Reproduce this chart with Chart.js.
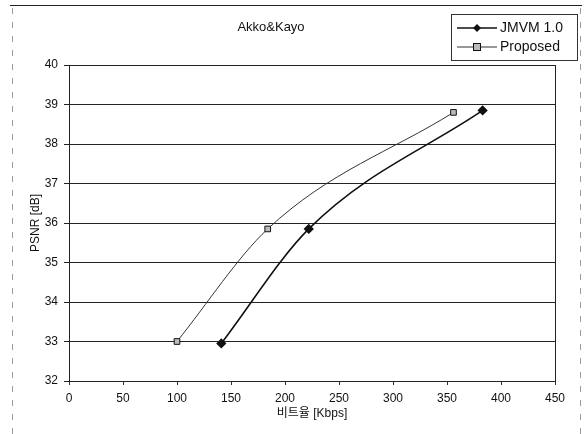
<!DOCTYPE html>
<html>
<head>
<meta charset="utf-8">
<script src="https://cdn.jsdelivr.net/npm/chart.js@4.4.1/dist/chart.umd.min.js"></script>
<style>
  html, body { margin: 0; padding: 0; background: #fff; }
  canvas { display: block; }
</style>
</head>
<body>
<canvas id="psnrChart" width="585" height="434"></canvas>
<script>
// 1. data
const chartTitle = 'Akko&Kayo';
const seriesNames = ['JMVM 1.0', 'Proposed'];
const jmvmRate = [141, 222, 383];
const jmvmPsnr = [32.95, 35.85, 38.85];
const propRate = [100, 184, 356];
const propPsnr = [33.0, 35.85, 38.8];
const xTicks = [0, 50, 100, 150, 200, 250, 300, 350, 400, 450];
const yTicks = [32, 33, 34, 35, 36, 37, 38, 39, 40];

const FONT = "'Liberation Sans', Arial, 'Noto Sans CJK KR', sans-serif";

// 2. helper: zip x/y arrays into points
function toPoints(xs, ys) {
    return xs.map((x, i) => ({ x: x, y: ys[i] }));
}

// 3. plugin: frame, plot border, title, legend box
const decorPlugin = {
    id: 'decor',
    beforeDatasetsDraw(chart) {
        const { ctx, chartArea: a } = chart;
        ctx.save();
        ctx.strokeStyle = '#222';
        ctx.lineWidth = 1;
        ctx.strokeRect(a.left + 0.5, a.top + 0.5, a.right - a.left, a.bottom - a.top);
        ctx.restore();
    },
    afterDraw(chart) {
        const ctx = chart.ctx;
        ctx.save();

        // 3.1 outer frame
        ctx.strokeStyle = '#222';
        ctx.lineWidth = 1;
        ctx.beginPath();
        ctx.moveTo(10, 5.5);
        ctx.lineTo(582, 5.5);
        ctx.stroke();
        ctx.strokeStyle = '#999';
        ctx.setLineDash([6, 8]);
        ctx.beginPath();
        ctx.moveTo(12.5, 8);
        ctx.lineTo(12.5, 434);
        ctx.moveTo(580.5, 8);
        ctx.lineTo(580.5, 434);
        ctx.stroke();
        ctx.setLineDash([]);

        // 3.2 title
        ctx.fillStyle = '#111';
        ctx.font = '13px ' + FONT;
        ctx.textAlign = 'center';
        ctx.textBaseline = 'middle';
        ctx.fillText(chartTitle, 271, 27);

        // 3.3 legend box
        ctx.strokeStyle = '#333';
        ctx.strokeRect(451.5, 14.5, 126, 46);
        chart.data.datasets.forEach((ds, i) => {
            const y = 28 + i * 19;
            ctx.strokeStyle = ds.borderColor;
            ctx.lineWidth = ds.borderWidth;
            ctx.beginPath();
            ctx.moveTo(457, y);
            ctx.lineTo(497, y);
            ctx.stroke();
            ctx.fillStyle = ds.pointBackgroundColor;
            ctx.strokeStyle = '#111';
            ctx.lineWidth = 1;
            if (ds.pointStyle === 'rectRot') {
                ctx.beginPath();
                ctx.moveTo(477, y - 4);
                ctx.lineTo(481, y);
                ctx.lineTo(477, y + 4);
                ctx.lineTo(473, y);
                ctx.closePath();
                ctx.fill();
            } else {
                ctx.fillRect(473.5, y - 3.5, 7, 7);
                ctx.strokeRect(473.5, y - 3.5, 7, 7);
            }
            ctx.fillStyle = '#111';
            ctx.font = '14px ' + FONT;
            ctx.textAlign = 'left';
            ctx.fillText(ds.label, 500, y);
        });
        ctx.restore();
    }
};

// 4. render chart
const ctx = document.getElementById('psnrChart').getContext('2d');
new Chart(ctx, {
    type: 'line',
    data: {
        datasets: [{
            label: seriesNames[0],
            data: toPoints(jmvmRate, jmvmPsnr),
            borderColor: '#111',
            borderWidth: 1.6,
            pointStyle: 'rectRot',
            pointRadius: 4,
            pointBackgroundColor: '#111',
            pointBorderColor: '#111',
            cubicInterpolationMode: 'monotone',
            fill: false
        }, {
            label: seriesNames[1],
            data: toPoints(propRate, propPsnr),
            borderColor: '#333',
            borderWidth: 1,
            pointStyle: 'rect',
            pointRadius: 4,
            pointBackgroundColor: '#bbb',
            pointBorderColor: '#111',
            pointBorderWidth: 1,
            cubicInterpolationMode: 'monotone',
            fill: false
        }]
    },
    options: {
        responsive: false,
        animation: false,
        layout: { padding: { top: 65, right: 30, left: 0, bottom: 0 } },
        plugins: {
            legend: { display: false },
            title: { display: false },
            tooltip: { enabled: false }
        },
        scales: {
            x: {
                type: 'linear',
                min: 0,
                max: 450,
                afterFit: (scale) => { scale.height = 53; },
                afterBuildTicks: (scale) => { scale.ticks = xTicks.map(v => ({ value: v })); },
                ticks: { color: '#111', padding: 6, maxRotation: 0, font: { family: FONT, size: 12 } },
                grid: { drawOnChartArea: false, tickLength: 4, color: '#333' },
                border: { display: true, color: '#222' },
                title: {
                    display: true,
                    text: '비트율 [Kbps]',
                    color: '#111',
                    font: { family: FONT, size: 12 },
                    padding: { top: 0, bottom: 13 }
                }
            },
            y: {
                min: 32,
                max: 40,
                afterFit: (scale) => { scale.width = 69; },
                afterBuildTicks: (scale) => { scale.ticks = yTicks.map(v => ({ value: v })); },
                ticks: { color: '#111', padding: 6, font: { family: FONT, size: 12 } },
                grid: { color: '#222', lineWidth: 1, tickLength: 5 },
                border: { display: true, color: '#222' },
                title: {
                    display: true,
                    text: 'PSNR [dB]',
                    color: '#111',
                    font: { family: FONT, size: 12 },
                    padding: { top: 28, bottom: 0 }
                }
            }
        }
    },
    plugins: [decorPlugin]
});
</script>
</body>
</html>
